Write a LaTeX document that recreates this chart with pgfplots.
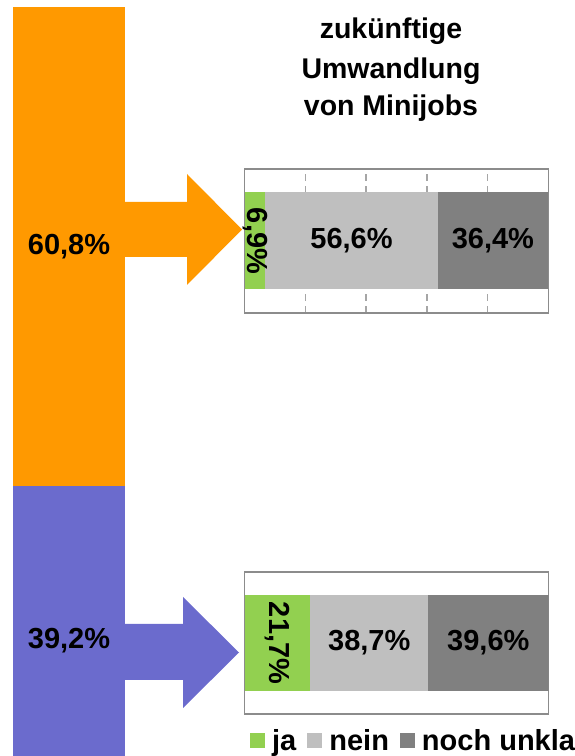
\documentclass[border=0pt]{standalone}
\usepackage{fontspec}
\setmainfont{Liberation Sans}
\usepackage{pgfplots}
\pgfplotsset{compat=1.18}
\definecolor{orangebar}{HTML}{FF9900}
\definecolor{lilac}{HTML}{6B6BCD}
\definecolor{jagreen}{HTML}{92D050}
\definecolor{neingray}{HTML}{BFBFBF}
\definecolor{unklargray}{HTML}{808080}
\definecolor{framegray}{HTML}{8C8C8C}
\newcommand{\barfont}{\bfseries\fontsize{29}{29}\selectfont}
\pgfplotsset{
  sqlegend/.style={legend image code/.code={\fill[##1] (0pt,-7.5pt) rectangle (15pt,7.5pt);}},
  minibar/.style={
    scale only axis, width=304pt, set layers, reverse stacked plots=false,
    xmin=0, xmax=100, ymin=-0.5, ymax=0.5,
    xbar stacked,
    ytick=\empty, xticklabels={}, major tick length=0pt,
    axis line style={framegray, line width=1.4pt},
  },
}

\begin{document}
\begin{tikzpicture}

% share of minijobs (left column, cut off at the bottom)
\begin{axis}[at={(0pt,0pt)}, anchor=south west, scale only axis,
    width=140pt, height=756pt, set layers, reverse stacked plots=false,
    xmin=0, xmax=140, ymin=4.93, ymax=100.89,
    hide axis, ybar stacked, bar width=112]
\addplot[fill=lilac, draw=none] coordinates {(69,39.2)};
\addplot[fill=orangebar, draw=none] coordinates {(69,60.8)};
\begin{pgfonlayer}{axis foreground}
\node[font=\barfont] at (axis cs:69,19.6) {39,2\%};
\node[font=\barfont] at (axis cs:69,69.6) {60,8\%};
\end{pgfonlayer}
\end{axis}

% arrows
\fill[orangebar] (124pt,554pt) -- (187pt,554pt) -- (187pt,582pt) -- (242pt,526.5pt)
  -- (187pt,471pt) -- (187pt,499pt) -- (124pt,499pt) -- cycle;
\fill[lilac] (124pt,132pt) -- (183pt,132pt) -- (183pt,159pt) -- (239pt,103.5pt)
  -- (183pt,48pt) -- (183pt,76pt) -- (124pt,76pt) -- cycle;

% title
\node[font=\bfseries\fontsize{28.5}{38}\selectfont, anchor=base] at (391pt,717.4pt) {zukünftige};
\node[font=\bfseries\fontsize{28.5}{38}\selectfont, anchor=base] at (391pt,677pt) {Umwandlung};
\node[font=\bfseries\fontsize{28.5}{38}\selectfont, anchor=base] at (391pt,640pt) {von Minijobs};

% upper group
\begin{axis}[minibar, at={(244.5pt,443pt)}, anchor=south west, height=144pt,
    bar width=97pt, xtick={20,40,60,80}, xmajorgrids,
    grid style={gray!70, line width=1.4pt, dash pattern=on 7pt off 5pt}]
\addplot[fill=jagreen, draw=none] coordinates {(6.9,0)};
\addplot[fill=neingray, draw=none] coordinates {(56.6,0)};
\addplot[fill=unklargray, draw=none] coordinates {(36.4,0)};
\begin{pgfonlayer}{axis foreground}
\node[font=\barfont, rotate=-90] at (axis cs:3.45,0) {6,9\%};
\node[font=\barfont] at (axis cs:35.2,0) {56,6\%};
\node[font=\barfont] at (axis cs:81.7,0) {36,4\%};
\end{pgfonlayer}
\end{axis}

% lower group
\begin{axis}[minibar, at={(244.5pt,42pt)}, anchor=south west, height=142pt,
    bar width=95pt, xtick=\empty,
    legend columns=3,
    legend style={draw=none, fill=none, at={(0.018,-0.187)}, anchor=west,
      font=\barfont, inner sep=0pt, nodes={inner sep=0pt},
      /tikz/every odd column/.append style={column sep=7pt},
      /tikz/every even column/.append style={column sep=11pt}}]
\addplot[fill=jagreen, draw=none, sqlegend] coordinates {(21.7,0)};
\addplot[fill=neingray, draw=none, sqlegend] coordinates {(38.7,0)};
\addplot[fill=unklargray, draw=none, sqlegend] coordinates {(39.6,0)};
\begin{pgfonlayer}{axis foreground}
\node[font=\barfont, rotate=-90] at (axis cs:10.85,0) {21,7\%};
\node[font=\barfont] at (axis cs:41.05,0) {38,7\%};
\node[font=\barfont] at (axis cs:80.2,0) {39,6\%};
\end{pgfonlayer}
\addlegendentry{ja}
\addlegendentry{nein}
\addlegendentry{noch unklar}
\end{axis}

\pgfresetboundingbox
\path[use as bounding box] (0pt,0pt) rectangle (574pt,756pt);
\end{tikzpicture}
\end{document}
